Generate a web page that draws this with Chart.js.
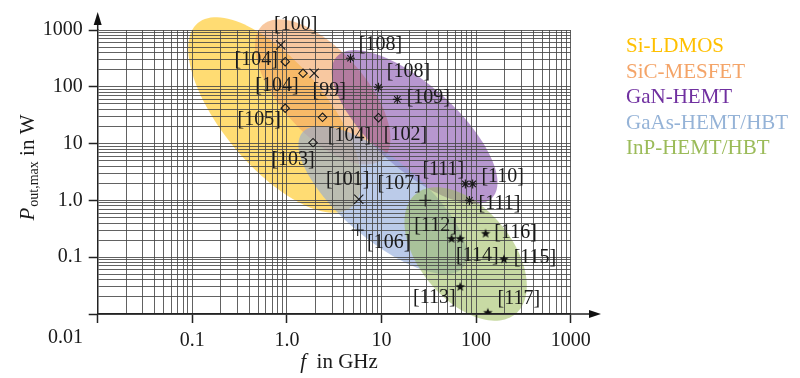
<!DOCTYPE html>
<html><head><meta charset="utf-8">
<script src="https://cdn.jsdelivr.net/npm/chart.js@4/dist/chart.umd.min.js"></script>
<style>html,body{margin:0;padding:0;background:#fff}</style>
</head><body>
<canvas id="c" width="800" height="378"></canvas>
<script>
// ---- axes ----
const xTickValues = [0.01, 0.1, 1, 10, 100, 1000];
const xTickLabels = ['0.01', '0.1', '1.0', '10', '100', '1000'];
const yTickValues = [0.01, 0.1, 1, 10, 100, 1000];
const yTickLabels = ['0.01', '0.1', '1.0', '10', '100', '1000'];
const gridSignificands = [1, 2, 3, 4, 5, 6, 7, 8, 9];

// ---- technology regions (centre in GHz / W, semi-axes in decades of f and P) ----
const categories = ['Si-LDMOS', 'SiC-MESFET', 'GaN-HEMT', 'GaAs-HEMT/HBT', 'InP-HEMT/HBT'];
const regionCenterF = [0.745, 2.39, 22.4, 10.3, 77.5];
const regionCenterP = [31.9, 81, 19.6, 1.016, 0.114];
const regionAxisA = [[0.814, -1.618], [0.636, -1.178], [0.824, -1.238], [0.849, -1.188], [0.529, -1.053]];
const regionAxisB = [[-0.420, -0.588], [-0.329, -0.495], [-0.297, -0.549], [-0.271, -0.539], [-0.372, -0.521]];

// ---- reported devices ----
const crossF = [0.86, 1.94, 5.75];
const crossP = [545, 173, 1.05];
const crossRefs = ['[100]', '[99]', '[101]'];

const diamondF = [0.96, 1.48, 0.96, 2.38, 1.89, 9.3];
const diamondP = [277, 173, 42, 29, 10.4, 28.6];
const diamondRefs = ['[104]', '[104]', '[105]', '[104]', '[103]', '[102]'];

const asteriskF = [4.7, 9.3, 14.7, 77, 92, 85];
const asteriskP = [318, 98, 60, 1.95, 1.95, 1.0];
const asteriskRefs = ['[108]', '[108]', '[109]', '[111]', '[110]', '[111]'];

const plusF = [29, 5.6];
const plusP = [1.0, 0.30];
const plusRefs = ['[107]', '[106]'];

const starF = [55, 68, 126, 197, 68, 133];
const starP = [0.21, 0.21, 0.26, 0.092, 0.03, 0.0105];
const starRefs = ['[112]', '[114]', '[116]', '[115]', '[113]', '[117]'];

// ---- styling (kept apart from data) ----
const regionFill = ['rgba(255,192,0,0.55)', 'rgba(244,164,96,0.6)', 'rgba(112,48,160,0.5)', 'rgba(142,169,219,0.6)', 'rgba(155,187,89,0.55)'];
const legendColors = ['#FFC000', '#F4A468', '#7030A0', '#95B3D7', '#9BBB59'];
const crossLabelOffsets = [[15, -20], [15, 18], [-11, -19]];
const diamondLabelOffsets = [[-29, -2], [-26, 13], [-26, 12], [27, 19], [-20, 17], [27, 17]];
const asteriskLabelOffsets = [[30, -13], [30, -15], [31, -1], [-22, -14], [30, -7], [30, 4]];
const plusLabelOffsets = [[-26, -16], [31, 13]];
const starLabelOffsets = [[-16, -13], [17, 17], [30, -1], [31, -1], [-26, 11], [31, -14]];

const SERIF = '"Liberation Serif", "Times New Roman", serif';
const INK = '#1a1a1a';

function isMajor(v) { const l = Math.log10(v); return Math.abs(l - Math.round(l)) < 1e-6; }
function gridValues(min, max) {
  const out = [];
  for (let e = Math.round(Math.log10(min)); e <= Math.round(Math.log10(max)); e++) {
    for (const s of gridSignificands) {
      const v = +(s * Math.pow(10, e)).toPrecision(6);
      if (v <= max * 1.0001) out.push(v);
    }
  }
  return out;
}
function toPoints(fs, ps) { return fs.map((f, i) => ({ x: f, y: ps[i] })); }

function makeStar(r) {
  const s = Math.ceil(2 * r + 2);
  const c = document.createElement('canvas');
  c.width = c.height = s;
  const g = c.getContext('2d');
  g.fillStyle = '#111';
  g.beginPath();
  for (let i = 0; i < 10; i++) {
    const a = -Math.PI / 2 + i * Math.PI / 5;
    const rr = i % 2 ? r * 0.42 : r;
    g.lineTo(s / 2 + rr * Math.cos(a), s / 2 + rr * Math.sin(a));
  }
  g.closePath();
  g.fill();
  return c;
}

function axisScale(tickValues, tickLabels, afterFit) {
  return {
    type: 'logarithmic',
    min: tickValues[0],
    max: tickValues[tickValues.length - 1],
    afterBuildTicks: s => { s.ticks = gridValues(s.min, s.max).map(v => ({ value: v })); },
    afterFit: afterFit,
    ticks: {
      autoSkip: false, maxRotation: 0, minRotation: 0, padding: 6, color: INK,
      font: { family: SERIF, size: 20 },
      callback: v => {
        const i = tickValues.findIndex(t => Math.abs(t - v) / t < 1e-6);
        return i > 0 ? tickLabels[i] : '';
      }
    },
    grid: {
      color: 'rgba(70,70,70,0.85)', lineWidth: 1, drawTicks: true, tickLength: 9, tickWidth: 1.5,
      tickColor: c => (c.tick && isMajor(c.tick.value)) ? '#222' : 'rgba(0,0,0,0)'
    },
    border: { display: true, color: '#222', width: 1.5 }
  };
}

const regionPlugin = {
  id: 'regions',
  beforeDraw(chart) {
    const { ctx } = chart; const xs = chart.scales.x, ys = chart.scales.y;
    ctx.save();
    categories.forEach((name, k) => {
      const cf = Math.log10(regionCenterF[k]), cp = Math.log10(regionCenterP[k]);
      const A = regionAxisA[k], B = regionAxisB[k];
      ctx.beginPath();
      const N = 120;
      for (let i = 0; i <= N; i++) {
        const t = 2 * Math.PI * i / N;
        const lf = cf + A[0] * Math.cos(t) + B[0] * Math.sin(t);
        const lp = cp + A[1] * Math.cos(t) + B[1] * Math.sin(t);
        const px = xs.getPixelForValue(Math.pow(10, lf));
        const py = ys.getPixelForValue(Math.pow(10, lp));
        if (i === 0) ctx.moveTo(px, py); else ctx.lineTo(px, py);
      }
      ctx.closePath();
      ctx.fillStyle = regionFill[k];
      ctx.fill();
    });
    ctx.restore();
  }
};

const decorPlugin = {
  id: 'decor',
  afterDatasetsDraw(chart) {
    const ctx = chart.ctx;
    ctx.save();
    ctx.font = '20px ' + SERIF;
    ctx.fillStyle = INK;
    ctx.textAlign = 'center';
    ctx.textBaseline = 'alphabetic';
    chart.data.datasets.forEach((ds, di) => {
      const meta = chart.getDatasetMeta(di);
      meta.data.forEach((pt, i) => {
        const ref = ds.refs[i];
        if (!ref) return;
        const off = ds.labelOffsets[i];
        ctx.fillText(ref, pt.x + off[0], pt.y + off[1] + 5);
      });
    });
    ctx.restore();
  },
  afterDraw(chart) {
    const ctx = chart.ctx; const a = chart.chartArea;
    ctx.save();
    // axis arrows
    ctx.strokeStyle = '#222'; ctx.fillStyle = '#111'; ctx.lineWidth = 1.5;
    ctx.beginPath(); ctx.moveTo(a.left, a.top); ctx.lineTo(a.left, 20); ctx.stroke();
    ctx.beginPath(); ctx.moveTo(a.left, 12); ctx.lineTo(a.left - 4, 25); ctx.lineTo(a.left + 4, 25); ctx.closePath(); ctx.fill();
    ctx.beginPath(); ctx.moveTo(a.right, a.bottom); ctx.lineTo(594, a.bottom); ctx.stroke();
    ctx.beginPath(); ctx.moveTo(601, a.bottom); ctx.lineTo(589, a.bottom - 4); ctx.lineTo(589, a.bottom + 4); ctx.closePath(); ctx.fill();
    // shared corner label
    ctx.fillStyle = INK;
    ctx.font = '20px ' + SERIF;
    ctx.textAlign = 'right'; ctx.textBaseline = 'alphabetic';
    ctx.fillText(xTickLabels[0], 83, 343);
    // x title
    const big = '21px ' + SERIF, it = 'italic 21px ' + SERIF, sub = '14px ' + SERIF;
    ctx.textAlign = 'left';
    ctx.font = it; const wf = ctx.measureText('f').width;
    ctx.font = big; const wr = ctx.measureText('  in GHz').width;
    let x0 = 339 - (wf + wr) / 2;
    ctx.font = it; ctx.fillText('f', x0, 368);
    ctx.font = big; ctx.fillText('  in GHz', x0 + wf, 368);
    // y title
    ctx.save();
    ctx.translate(34, 168);
    ctx.rotate(-Math.PI / 2);
    ctx.font = it; const wp = ctx.measureText('P').width;
    ctx.font = sub; const ws = ctx.measureText('out,max').width;
    ctx.font = big; const ww = ctx.measureText(' in W').width;
    let s0 = -(wp + ws + ww) / 2;
    ctx.font = it; ctx.fillText('P', s0, 0);
    ctx.font = sub; ctx.fillText('out,max', s0 + wp + 1, 4);
    ctx.font = big; ctx.fillText(' in W', s0 + wp + 1 + ws, 0);
    ctx.restore();
    // legend
    ctx.font = '21px ' + SERIF; ctx.textAlign = 'left';
    categories.forEach((name, k) => {
      ctx.fillStyle = legendColors[k];
      ctx.fillText(name, 626, 52 + k * 25.5);
    });
    ctx.restore();
  }
};

const markerColor = '#1a1a1a';
new Chart(document.getElementById('c'), {
  type: 'scatter',
  data: {
    datasets: [
      { label: 'cross', data: toPoints(crossF, crossP), refs: crossRefs, labelOffsets: crossLabelOffsets,
        pointStyle: 'crossRot', pointRadius: 6.5, borderColor: markerColor, borderWidth: 1.1, backgroundColor: 'transparent' },
      { label: 'diamond', data: toPoints(diamondF, diamondP), refs: diamondRefs, labelOffsets: diamondLabelOffsets,
        pointStyle: 'rectRot', pointRadius: 4.2, borderColor: markerColor, borderWidth: 1.1, backgroundColor: 'transparent' },
      { label: 'asterisk', data: toPoints(asteriskF, asteriskP), refs: asteriskRefs, labelOffsets: asteriskLabelOffsets,
        pointStyle: 'star', pointRadius: 4.5, borderColor: markerColor, borderWidth: 1.1, backgroundColor: 'transparent' },
      { label: 'plus', data: toPoints(plusF, plusP), refs: plusRefs, labelOffsets: plusLabelOffsets,
        pointStyle: 'cross', pointRadius: 6, borderColor: markerColor, borderWidth: 1.1, backgroundColor: 'transparent' },
      { label: 'star', data: toPoints(starF, starP), refs: starRefs, labelOffsets: starLabelOffsets,
        pointStyle: makeStar(5), pointRadius: 5, borderColor: markerColor, backgroundColor: markerColor }
    ]
  },
  options: {
    responsive: false, animation: false, events: [],
    layout: { padding: { left: 0, top: 30, right: 229.3, bottom: 0 } },
    plugins: { legend: { display: false }, tooltip: { enabled: false } },
    scales: {
      x: axisScale(xTickValues, xTickLabels, s => { s.height = 64; }),
      y: axisScale(yTickValues, yTickLabels, s => { s.width = 97.7; })
    }
  },
  plugins: [regionPlugin, decorPlugin]
});
</script>
</body></html>
